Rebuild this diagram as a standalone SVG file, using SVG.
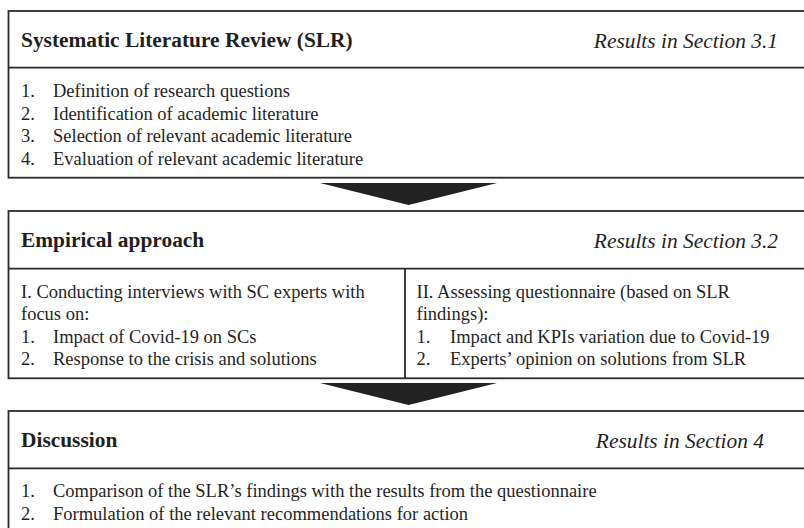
<svg xmlns="http://www.w3.org/2000/svg" width="804" height="528" viewBox="0 0 804 528">
<style>
.box{fill:#fff;stroke:#2a2a2a;stroke-width:1.8}
.ln{stroke:#2a2a2a;stroke-width:1.8;fill:none}
text{font-family:'Liberation Serif',serif;fill:#1f1f1f}
.h{font-size:21.4px;font-weight:bold}
.r{font-size:21.4px;font-style:italic;text-anchor:end}
.t{font-size:18.5px}
.arr{fill:#222}
</style>
<rect width="804" height="528" fill="#fff"/>
<g id="slr">
<rect class="box" x="8.5" y="11" width="820" height="166.7"/>
<line class="ln" x1="8.5" y1="67.7" x2="804" y2="67.7"/>
<text class="h" x="21" y="47">Systematic Literature Review (SLR)</text>
<text class="r" x="778" y="48">Results in Section 3.1</text>
<text class="t" y="97"><tspan x="21">1.</tspan><tspan x="53">Definition of research questions</tspan></text>
<text class="t" y="119.5"><tspan x="21">2.</tspan><tspan x="53">Identification of academic literature</tspan></text>
<text class="t" y="142"><tspan x="21">3.</tspan><tspan x="53">Selection of relevant academic literature</tspan></text>
<text class="t" y="164.5"><tspan x="21">4.</tspan><tspan x="53">Evaluation of relevant academic literature</tspan></text>
</g>
<g id="empirical">
<rect class="box" x="8.5" y="211" width="820" height="167.3"/>
<line class="ln" x1="8.5" y1="268.7" x2="804" y2="268.7"/>
<line class="ln" x1="405" y1="268.7" x2="405" y2="378.3"/>
<text class="h" x="21" y="247">Empirical approach</text>
<text class="r" x="778" y="248">Results in Section 3.2</text>
<text class="t" x="21" y="298">I. Conducting interviews with SC experts with</text>
<text class="t" x="21" y="320.3">focus on:</text>
<text class="t" y="342.6"><tspan x="21">1.</tspan><tspan x="53">Impact of Covid-19 on SCs</tspan></text>
<text class="t" y="365"><tspan x="21">2.</tspan><tspan x="53">Response to the crisis and solutions</tspan></text>
<text class="t" x="416.5" y="298">II. Assessing questionnaire (based on SLR</text>
<text class="t" x="416.5" y="320.3">findings):</text>
<text class="t" y="342.6"><tspan x="416.5">1.</tspan><tspan x="450">Impact and KPIs variation due to Covid-19</tspan></text>
<text class="t" y="365"><tspan x="416.5">2.</tspan><tspan x="450">Experts’ opinion on solutions from SLR</tspan></text>
</g>
<g id="discussion">
<rect class="box" x="8.5" y="411" width="820" height="140"/>
<line class="ln" x1="8.5" y1="468.3" x2="804" y2="468.3"/>
<text class="h" x="21" y="447">Discussion</text>
<text class="r" x="764" y="448">Results in Section 4</text>
<text class="t" y="497"><tspan x="21">1.</tspan><tspan x="53">Comparison of the SLR’s findings with the results from the questionnaire</tspan></text>
<text class="t" y="519.5"><tspan x="21">2.</tspan><tspan x="53">Formulation of the relevant recommendations for action</tspan></text>
</g>
<g id="connectors">
<polygon class="arr" points="320,183 497,183 408.5,205"/>
<polygon class="arr" points="320,383 497,383 408.5,405"/>
</g>
</svg>
